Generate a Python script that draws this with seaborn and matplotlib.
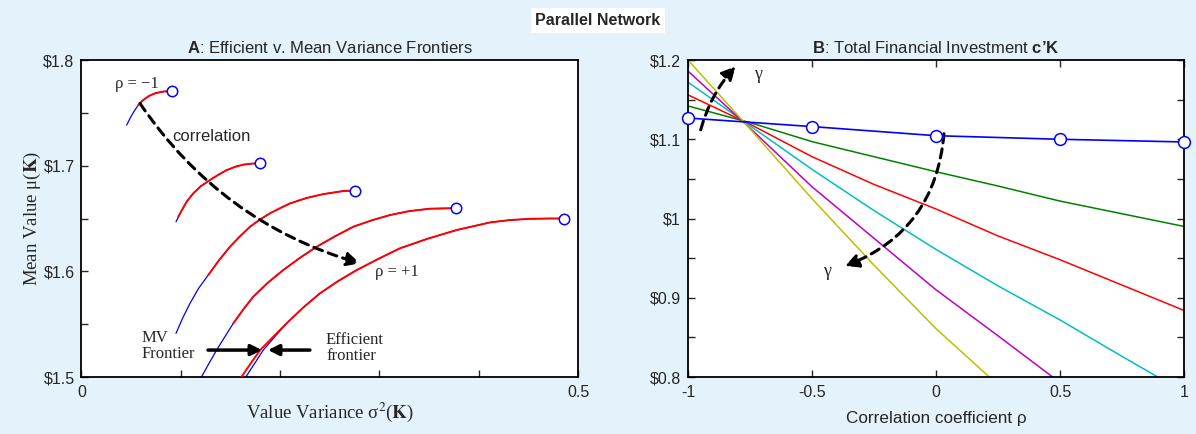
import numpy as np
import pandas as pd
import matplotlib
matplotlib.use("Agg")
import matplotlib.pyplot as plt
import seaborn as sns

# ---------------- Panel A: frontiers for five correlation levels ----------------
# mean-variance frontier (blue), from rho = -1 (top left) to rho = +1 (bottom right)
mv_x = [
    [0.0455, 0.0490, 0.0530, 0.0572, 0.0620, 0.0680, 0.0750, 0.0830, 0.0908],
    [0.0952, 0.1000, 0.1060, 0.1126, 0.1200, 0.1294, 0.1380, 0.1462, 0.1550,
     0.1630, 0.1720, 0.1798],
    [0.0952, 0.1020, 0.1093, 0.1180, 0.1277, 0.1385, 0.1496, 0.1600, 0.1697,
     0.1800, 0.1898, 0.2000, 0.2100, 0.2270, 0.2435, 0.2636, 0.2754],
    [0.1210, 0.1285, 0.1361, 0.1445, 0.1529, 0.1630, 0.1730, 0.1880, 0.2032,
     0.2200, 0.2369, 0.2550, 0.2737, 0.2920, 0.3107, 0.3300, 0.3510, 0.3768],
    [0.1657, 0.1745, 0.1831, 0.1950, 0.2066, 0.2230, 0.2402, 0.2580, 0.2771,
     0.2990, 0.3207, 0.3490, 0.3778, 0.4114, 0.4310, 0.4517, 0.4700, 0.4859],
]
mv_y = [
    [1.7384, 1.7450, 1.7515, 1.7573, 1.7620, 1.7660, 1.7688, 1.7702, 1.7706],
    [1.6469, 1.6560, 1.6660, 1.6738, 1.6805, 1.6864, 1.6915, 1.6958, 1.6990,
     1.7010, 1.7020, 1.7022],
    [1.5413, 1.5560, 1.5697, 1.5840, 1.5965, 1.6105, 1.6233, 1.6335, 1.6422,
     1.6492, 1.6549, 1.6598, 1.6643, 1.6695, 1.6731, 1.6760, 1.6765],
    [1.5003, 1.5130, 1.5255, 1.5383, 1.5508, 1.5640, 1.5760, 1.5895, 1.6012,
     1.6128, 1.6233, 1.6330, 1.6422, 1.6482, 1.6533, 1.6570, 1.6593, 1.6598],
    [1.5003, 1.5130, 1.5255, 1.5385, 1.5508, 1.5655, 1.5792, 1.5905, 1.6012,
     1.6118, 1.6218, 1.6310, 1.6391, 1.6463, 1.6485, 1.6497, 1.6500, 1.6500],
]
# efficient frontier (red)
eff_x = [
    [0.0572, 0.0620, 0.0680, 0.0750, 0.0830, 0.0908],
    [0.0975, 0.1000, 0.1060, 0.1126, 0.1200, 0.1294, 0.1380, 0.1462, 0.1550,
     0.1630, 0.1720, 0.1798],
    [0.1277, 0.1385, 0.1496, 0.1600, 0.1697, 0.1800, 0.1898, 0.2000, 0.2100,
     0.2270, 0.2435, 0.2636, 0.2754],
    [0.1529, 0.1630, 0.1730, 0.1880, 0.2032, 0.2200, 0.2369, 0.2550, 0.2737,
     0.2920, 0.3107, 0.3300, 0.3510, 0.3768],
    [0.1613, 0.1705, 0.1800, 0.1935, 0.2066, 0.2230, 0.2402, 0.2580, 0.2771,
     0.2990, 0.3207, 0.3490, 0.3778, 0.4114, 0.4310, 0.4517, 0.4700, 0.4859],
]
eff_y = [
    [1.7573, 1.7620, 1.7660, 1.7688, 1.7702, 1.7706],
    [1.6517, 1.6560, 1.6660, 1.6738, 1.6805, 1.6864, 1.6915, 1.6958, 1.6990,
     1.7010, 1.7020, 1.7022],
    [1.5965, 1.6105, 1.6233, 1.6335, 1.6422, 1.6492, 1.6549, 1.6598, 1.6643,
     1.6695, 1.6731, 1.6760, 1.6765],
    [1.5508, 1.5640, 1.5760, 1.5895, 1.6012, 1.6128, 1.6233, 1.6330, 1.6422,
     1.6482, 1.6533, 1.6570, 1.6593, 1.6598],
    [1.5003, 1.5130, 1.5255, 1.5385, 1.5508, 1.5655, 1.5792, 1.5905, 1.6012,
     1.6118, 1.6218, 1.6310, 1.6391, 1.6463, 1.6485, 1.6497, 1.6500, 1.6500],
]
a_yticks = [1.5, 1.6, 1.7, 1.8]
a_yticklabels = ["$1.5", "$1.6", "$1.7", "$1.8"]
a_xticks = [0, 0.1, 0.2, 0.3, 0.4, 0.5]
a_xticklabels = ["0", "", "", "", "", "0.5"]

# ---------------- Panel B: total financial investment vs correlation ----------------
rho = [-1, -0.75, -0.5, -0.25, 0, 0.25, 0.5, 0.75, 1]
inv_green = [1.142, 1.121, 1.097, 1.078, 1.059, 1.041, 1.022, 1.006, 0.990]
inv_red = [1.156, 1.119, 1.078, 1.043, 1.012, 0.978, 0.948, 0.916, 0.884]
inv_cyan = [1.172, 1.117, 1.062, 1.010, 0.961, 0.915, 0.872, 0.826, 0.781]
inv_magenta = [1.186, 1.114, 1.040, 0.975, 0.910, 0.852, 0.793, 0.735, 0.677]
inv_yellow = [1.200, 1.113, 1.025, 0.941, 0.861, 0.790, 0.720, 0.650, 0.580]
rho_base = [-1, -0.5, 0, 0.5, 1]
inv_base = [1.1268, 1.1160, 1.1045, 1.1000, 1.0966]
b_yticks = [0.8, 0.9, 1.0, 1.1, 1.2]
b_yticklabels = ["$0.8", "$0.9", "$1", "$1.1", "$1.2"]
b_xticks = [-1, -0.5, 0, 0.5, 1]
b_xticklabels = ["-1", "-0.5", "0", "0.5", "1"]

BG = "#E4F2FC"
SANS = "Liberation Sans"
SERIF = "Liberation Serif"

sns.set_style("ticks")
plt.rcParams["font.family"] = [SANS, "DejaVu Sans"]
plt.rcParams["mathtext.fontset"] = "custom"
plt.rcParams["mathtext.rm"] = SANS
plt.rcParams["mathtext.bf"] = SANS + ":bold"
plt.rcParams["mathtext.it"] = SANS + ":italic"

fig = plt.figure(figsize=(11.96, 4.34), dpi=100, facecolor=BG)
axA = fig.add_axes([0.0681, 0.1313, 0.4152, 0.7304])
axB = fig.add_axes([0.5753, 0.1313, 0.4147, 0.7304])

# ---- Panel A ----
for xs, ys in zip(mv_x, mv_y):
    sns.lineplot(x=xs, y=ys, sort=False, estimator=None, ax=axA,
                 color=(0, 0, 1), lw=0.9, zorder=2)
for xs, ys in zip(eff_x, eff_y):
    sns.lineplot(x=xs, y=ys, sort=False, estimator=None, ax=axA,
                 color=(1, 0, 0), lw=1.4, zorder=3)
end_x = [xs[-1] for xs in mv_x]
end_y = [ys[-1] for ys in mv_y]
axA.plot(end_x, end_y, ls="none", marker="o", ms=7.5, mfc="white",
         mec=(0, 0, 1), mew=1.1, zorder=4)

axA.set_xlim(0, 0.5)
axA.set_ylim(1.5, 1.8)
axA.set_xticks(a_xticks)
axA.set_xticklabels(a_xticklabels)
axA.set_yticks(a_yticks)
axA.set_yticklabels(a_yticklabels)
axA.set_yticks([1.55, 1.65, 1.75], minor=True)
axA.tick_params(axis="both", which="both", direction="in", length=5,
                width=1.0, labelsize=11.5, pad=5)
axA.tick_params(axis="x", pad=6)
axA.set_xlabel("Value Variance σ$^2$($\\mathbf{K}$)", family=SERIF,
               fontsize=13.5, math_fontfamily="stix", labelpad=0)
axA.set_ylabel("Mean Value μ($\\mathbf{K}$)", family=SERIF,
               fontsize=13.5, math_fontfamily="stix", labelpad=0)
axA.set_title(r"$\mathbf{A}$: Efficient v. Mean Variance Frontiers",
              fontsize=12, pad=5)

axA.annotate("", xy=(0.2805, 1.6076), xytext=(0.0589, 1.759),
             arrowprops=dict(arrowstyle="-|>", lw=2.2, color="black",
                             linestyle=(0, (3, 2)), mutation_scale=20,
                             connectionstyle="arc3,rad=0.18",
                             shrinkA=0, shrinkB=0))
axA.text(0.0338, 1.7777, "ρ = −1", family=SERIF, fontsize=12, va="center")
axA.text(0.2956, 1.5993, "ρ = +1", family=SERIF, fontsize=12, va="center")
axA.text(0.0918, 1.7273, "correlation", fontsize=12, va="center")
axA.text(0.0606, 1.529, "MV\nFrontier", family=SERIF, fontsize=12,
         va="center", linespacing=1.0)
axA.text(0.2462, 1.527, "Efficient\nfrontier", family=SERIF, fontsize=12,
         va="center", linespacing=1.0)
axA.annotate("", xy=(0.1818, 1.5255), xytext=(0.1274, 1.5255),
             arrowprops=dict(arrowstyle="-|>", lw=2.5, color="black",
                             mutation_scale=16, shrinkA=0, shrinkB=0))
axA.annotate("", xy=(0.1878, 1.5255), xytext=(0.230, 1.5255),
             arrowprops=dict(arrowstyle="-|>", lw=2.5, color="black",
                             mutation_scale=16, shrinkA=0, shrinkB=0))

# ---- Panel B ----
matlab_colors = [(0, 0.5, 0), (1, 0, 0), (0, 0.75, 0.75),
                 (0.75, 0, 0.75), (0.75, 0.75, 0)]
series = [inv_green, inv_red, inv_cyan, inv_magenta, inv_yellow]
df_b = pd.DataFrame({
    "rho": np.tile(rho, len(series)),
    "investment": np.concatenate(series),
    "level": np.repeat(np.arange(len(series)), len(rho)),
})
sns.lineplot(data=df_b, x="rho", y="investment", hue="level",
             palette=matlab_colors, estimator=None, sort=False,
             legend=False, lw=1.1, ax=axB)
sns.lineplot(x=rho_base, y=inv_base, estimator=None, sort=False, ax=axB,
             color=(0, 0, 1), lw=1.2, marker="o", ms=8.5, mfc="white",
             mec=(0, 0, 1), mew=1.1, clip_on=False, zorder=5)

axB.set_xlim(-1, 1)
axB.set_ylim(0.8, 1.2)
axB.set_xticks(b_xticks)
axB.set_xticklabels(b_xticklabels)
axB.set_yticks(b_yticks)
axB.set_yticklabels(b_yticklabels)
axB.set_yticks([0.85, 0.95, 1.05, 1.15], minor=True)
axB.tick_params(axis="both", which="both", direction="in", length=5,
                width=1.0, labelsize=11.5, top=True, right=True, pad=5)
axB.tick_params(axis="x", pad=6)
axB.set_xlabel("Correlation coefficient ρ", fontsize=12.3, labelpad=8)
axB.set_ylabel("")
axB.set_title(r"$\mathbf{B}$: Total Financial Investment $\mathbf{c’K}$",
              fontsize=12, pad=5)

axB.annotate("", xy=(-0.808, 1.192), xytext=(-0.949, 1.112),
             arrowprops=dict(arrowstyle="-|>", lw=2.2, color="black",
                             linestyle=(0, (3, 2)), mutation_scale=20,
                             connectionstyle="arc3,rad=-0.12",
                             shrinkA=0, shrinkB=0))
axB.annotate("", xy=(-0.367, 0.940), xytext=(0.032, 1.107),
             arrowprops=dict(arrowstyle="-|>", lw=2.2, color="black",
                             linestyle=(0, (3, 2)), mutation_scale=20,
                             connectionstyle="arc3,rad=-0.31",
                             shrinkA=0, shrinkB=0))
axB.text(-0.734, 1.182, "γ", family=SERIF, fontsize=13, va="center")
axB.text(-0.454, 0.933, "γ", family=SERIF, fontsize=13, va="center")

for ax in (axA, axB):
    ax.set_facecolor("white")
    for sp in ax.spines.values():
        sp.set_visible(True)
        sp.set_color("black")
        sp.set_linewidth(1.3)

fig.text(0.5, 0.953, "Parallel Network", ha="center", va="center",
         fontsize=11.5, fontweight="bold",
         bbox=dict(boxstyle="square,pad=0.3", fc="white", ec="none"))

fig.savefig("out.png", dpi=100, facecolor=BG)
